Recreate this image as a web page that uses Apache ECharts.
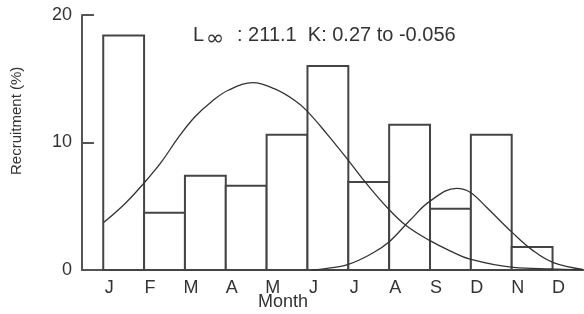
<!DOCTYPE html>
<html>
<head>
<meta charset="utf-8">
<script src="https://cdn.jsdelivr.net/npm/echarts@6/dist/echarts.min.js"></script>
<style>
  html, body { margin: 0; padding: 0; background: #fff; }
  #chart { width: 584px; height: 314px; }
</style>
</head>
<body>
<div id="chart"></div>
<script>
// month labels, one at the start of each bar interval
var months = ["J", "F", "M", "A", "M", "J", "J", "A", "S", "D", "N", "D"];
// recruitment (%) per interval [i, i+1]
var barValues = [18.4, 4.5, 7.4, 6.6, 10.6, 16.0, 6.9, 11.4, 4.8, 10.6, 1.8];
// first fitted curve  [x, y]
var curve1 = [
  [0, 3.7], [0.53, 5.2], [1.02, 6.9], [1.43, 8.5], [1.84, 10.4], [2.24, 12.0],
  [2.65, 13.2], [3.06, 14.1], [3.67, 14.7], [4.2, 14.2], [4.69, 13.3], [4.98, 12.5],
  [5.47, 10.7], [6.0, 8.6], [6.45, 6.75], [6.98, 4.8], [7.43, 3.45], [8.0, 2.3],
  [8.49, 1.5], [8.98, 0.85], [10.04, 0.2], [11.01, 0.08], [11.74, 0.0]
];
// second fitted curve [x, y]
var curve2 = [
  [5.1, 0.0], [5.3, 0.05], [6.0, 0.45], [6.61, 1.35], [6.98, 2.15], [7.51, 3.9],
  [8.0, 5.4], [8.65, 6.4], [8.98, 6.1], [9.39, 4.9], [10.01, 2.95], [10.53, 1.5],
  [11.02, 0.58], [11.74, 0.05]
];
var yTicks = [0, 10, 20];

var chart = echarts.init(document.getElementById("chart"));
var txt = "#333";
var fontFam = "Liberation Sans, Arial, sans-serif";

var option = {
  animation: false,
  grid: { left: 82, right: 0, top: 15, bottom: 44 },
  xAxis: {
    type: "value",
    min: -0.52,
    max: 11.77,
    axisLine: { show: true, onZero: false, lineStyle: { color: "#555", width: 2 } },
    axisTick: { show: false },
    splitLine: { show: false },
    axisLabel: {
      customValues: months.map(function (m, i) { return i; }),
      formatter: function (v) { return months[Math.round(v)]; },
      color: txt,
      fontSize: 18,
      fontFamily: fontFam,
      margin: 9,
      padding: [0, 0, 0, 12]
    }
  },
  yAxis: {
    type: "value",
    min: yTicks[0],
    max: yTicks[yTicks.length - 1],
    interval: 10,
    axisLine: { show: true, onZero: false, lineStyle: { color: "#555", width: 2 } },
    axisTick: { show: true, inside: true, length: 12, lineStyle: { color: "#555", width: 2 } },
    splitLine: { show: false },
    axisLabel: { color: txt, fontSize: 18, fontFamily: fontFam, margin: 10 }
  },
  graphic: [
    // L-infinity annotation
    { type: "text", left: 193, top: 25, style: { text: "L", fontSize: 20, fontFamily: fontFam, fill: txt } },
    { type: "text", left: 206, top: 28, style: { text: "\u221e", fontSize: 22, fontFamily: "DejaVu Sans, sans-serif", fill: txt } },
    { type: "text", left: 237, top: 25, style: { text: ": 211.1  K: 0.27 to -0.056", fontSize: 20, fontFamily: fontFam, fill: txt } },
    {
      type: "text",
      left: 258,
      top: 293,
      style: { text: "Month", fontSize: 18, fontFamily: fontFam, fill: txt }
    },
    {
      type: "text",
      x: 9,
      y: 175,
      rotation: Math.PI / 2,
      style: { text: "Recruitment (%)", fontSize: 15, fontFamily: fontFam, fill: txt }
    }
  ],
  series: [
    {
      type: "custom",
      data: barValues.map(function (v, i) { return [i, v]; }),
      renderItem: function (params, api) {
        var i = api.value(0);
        var p0 = api.coord([i, api.value(1)]);
        var p1 = api.coord([i + 1, 0]);
        return {
          type: "rect",
          shape: { x: p0[0], y: p0[1], width: p1[0] - p0[0], height: p1[1] - p0[1] },
          style: { fill: "#fff", stroke: "#444", lineWidth: 2 }
        };
      },
      z: 2
    },
    {
      type: "line",
      data: curve1,
      smooth: 0.4,
      showSymbol: false,
      lineStyle: { color: "#333", width: 1.3 },
      z: 3
    },
    {
      type: "line",
      data: curve2,
      smooth: 0.4,
      showSymbol: false,
      lineStyle: { color: "#333", width: 1.3 },
      z: 3
    }
  ]
};

chart.setOption(option);
window.addEventListener("resize", function () {
  chart.resize();
});
</script>
</body>
</html>
